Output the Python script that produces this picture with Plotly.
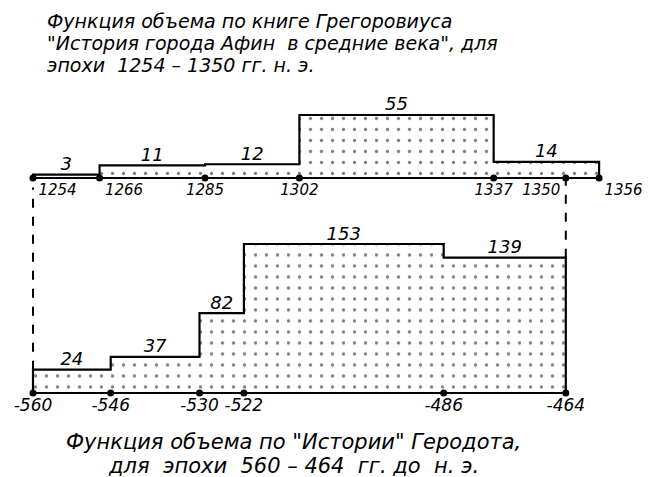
import plotly.graph_objects as go

# Gregorovius, "History of Athens in the Middle Ages"
greg_years = [1254, 1266, 1285, 1302, 1337, 1356]
greg_volume = [3, 11, 12, 55, 14]
greg_mark = 1350

# Herodotus, "History"
hero_years = [-560, -546, -530, -522, -486, -464]
hero_volume = [24, 37, 82, 153, 139]

title_top = ["Функция объема по книге Грегоровиуса",
             "\"История города Афин  в средние века\", для",
             "эпохи  1254 – 1350 гг. н. э."]
title_bottom = ["Функция объема по \"Истории\" Геродота,",
                "для  эпохи  560 – 464  гг. до  н. э."]

FONT = "DejaVu Sans"
W, H = 642, 469   # page adds an 8px body margin
shift = greg_years[0] - hero_years[0]

# horizontal scale shared by both panels (years are shifted for the top one)
px_per_year = 5.55
x_left = hero_years[0] - 25 / px_per_year
x_right = x_left + W / px_per_year


def domain(base_px, k, rng):
    # vertical domain so that value 0 sits at base_px with k pixels per unit
    lo = base_px - rng[0] * k
    hi = base_px - rng[1] * k
    return [1 - lo / H, 1 - hi / H]


top_range = [-4, 76]
top_dom = domain(170, 63 / 55, top_range)
bot_range = [-6, 170]
bot_dom = domain(385, 149 / 153, bot_range)


def to_paper(v, rng, dom):
    return dom[0] + (v - rng[0]) / (rng[1] - rng[0]) * (dom[1] - dom[0])


def step_trace(years, vals, xa, ya):
    xs = [years[0]] + years + [years[-1]]
    ys = [0] + vals + [vals[-1], 0]
    return go.Scatter(x=xs, y=ys, mode="lines", line=dict(color="black", width=2.2, shape="hv"),
                      fill="tozeroy", fillcolor="white",
                      fillpattern=dict(shape=".", fgcolor="black", bgcolor="white", size=11, solidity=0.07),
                      xaxis=xa, yaxis=ya, hoverinfo="skip")


fig = go.Figure()

# top chart
fig.add_trace(step_trace(greg_years, greg_volume, "x2", "y2"))
top_ticks = sorted(greg_years + [greg_mark])
pos = []
for i, t in enumerate(top_ticks):
    if i <= 1 or t == greg_years[-1]:
        pos.append("bottom right")
    elif t == greg_mark:
        pos.append("bottom left")
    else:
        pos.append("bottom center")
fig.add_trace(go.Scatter(x=[greg_years[0], greg_years[-1]], y=[0, 0], mode="lines",
                         line=dict(color="black", width=2), xaxis="x2", yaxis="y2", hoverinfo="skip"))
fig.add_trace(go.Scatter(x=top_ticks, y=[0] * len(top_ticks), mode="markers+text",
                         marker=dict(color="black", size=7), text=[str(t) for t in top_ticks],
                         textposition=pos, textfont=dict(family=FONT, size=15, color="black", style="italic"),
                         xaxis="x2", yaxis="y2", cliponaxis=False, hoverinfo="skip"))
mid = [(a + b) / 2 for a, b in zip(greg_years[:-1], greg_years[1:])]
fig.add_trace(go.Scatter(x=mid, y=greg_volume, mode="text", text=[str(v) for v in greg_volume],
                         textposition="top center",
                         textfont=dict(family=FONT, size=18, color="black", style="italic"),
                         xaxis="x2", yaxis="y2", cliponaxis=False, hoverinfo="skip"))

# bottom chart
fig.add_trace(step_trace(hero_years, hero_volume, "x", "y"))
fig.add_trace(go.Scatter(x=[hero_years[0], hero_years[-1]], y=[0, 0], mode="lines",
                         line=dict(color="black", width=2), hoverinfo="skip"))
fig.add_trace(go.Scatter(x=hero_years, y=[0] * len(hero_years), mode="markers+text",
                         marker=dict(color="black", size=7), text=[str(t) for t in hero_years],
                         textposition="bottom center",
                         textfont=dict(family=FONT, size=17, color="black", style="italic"),
                         cliponaxis=False, hoverinfo="skip"))
mid = [(a + b) / 2 for a, b in zip(hero_years[:-1], hero_years[1:])]
fig.add_trace(go.Scatter(x=mid, y=hero_volume, mode="text", text=[str(v) for v in hero_volume],
                         textposition="top center",
                         textfont=dict(family=FONT, size=18, color="black", style="italic"),
                         cliponaxis=False, hoverinfo="skip"))

# dashed connectors between the two epochs
top_base = to_paper(0, top_range, top_dom)
for yr, v in [(hero_years[0], hero_volume[0]), (greg_mark - shift, hero_volume[-1])]:
    fig.add_shape(type="line", xref="x", yref="paper", x0=yr, x1=yr,
                  y0=to_paper(v, bot_range, bot_dom), y1=top_base - (0.02 if yr == hero_years[0] else 0),
                  line=dict(color="black", width=2, dash="dash"))

# titles
for i, line in enumerate(title_top):
    fig.add_annotation(text=line, xref="paper", yref="paper", x=37 / W, y=1 - (13 + 22 * i) / H,
                       xanchor="left", yanchor="middle", showarrow=False,
                       font=dict(family=FONT, size=19, color="black", style="italic"))
for i, line in enumerate(title_bottom):
    fig.add_annotation(text=line, xref="paper", yref="paper", x=285 / W, y=1 - (434 + 24 * i) / H,
                       xanchor="center", yanchor="middle", showarrow=False,
                       font=dict(family=FONT, size=21, color="black", style="italic"))

ax = dict(visible=False, showgrid=False, zeroline=False)
fig.update_layout(
    width=W, height=H, margin=dict(l=0, r=0, t=0, b=0),
    paper_bgcolor="white", plot_bgcolor="white", showlegend=False,
    xaxis=dict(ax, range=[x_left, x_right], domain=[0, 1]),
    yaxis=dict(ax, range=bot_range, domain=bot_dom),
    xaxis2=dict(ax, range=[x_left + shift, x_right + shift], domain=[0, 1], anchor="y2"),
    yaxis2=dict(ax, range=top_range, domain=top_dom, anchor="x2"),
)

fig.write_html("out.html")
